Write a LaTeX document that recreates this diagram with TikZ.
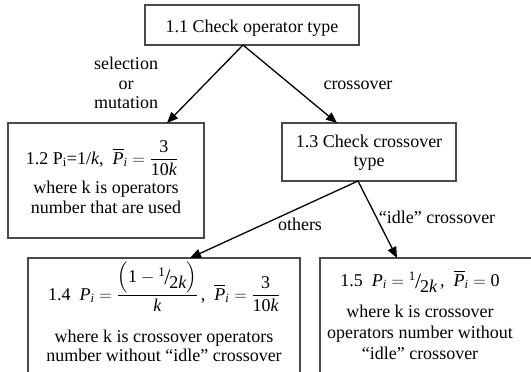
\documentclass[tikz,border=0pt]{standalone}
\usepackage{amsmath}
\usepackage{fontspec}
\setmainfont{Liberation Serif}
\usetikzlibrary{arrows.meta}
\definecolor{boxgray}{HTML}{4A4A4A}
\newcommand\tx[1]{\text{#1}}
\newcommand\ti[1]{\text{\itshape #1}}
\newcommand\pbar{\overline{\ti{P}}_{\ti{i}}}
\newcommand\myslfrac[2]{\mbox{\raisebox{.32em}{\fontsize{13}{13}\selectfont #1}\kern-.02em\raisebox{-.12em}{\fontsize{22}{22}\selectfont /}\kern-.06em\raisebox{-.38em}{#2}}}
\begin{document}
\begin{tikzpicture}[x=1pt,y=-1pt,
  box/.style={draw=boxgray,line width=1.1pt,inner sep=0pt},
  lbl/.style={inner sep=0pt,font=\fontsize{18}{20}\selectfont,anchor=base},
  arr/.style={line width=1.3pt,-{Triangle[length=11pt,width=9pt]}}]
\useasboundingbox (0,0) rectangle (531,372);
\clip (0,0) rectangle (531,372);
% boxes
\node[box,minimum width=214pt,minimum height=40pt] (n11) at (252,25) {};
\node[box,minimum width=196pt,minimum height=115pt] (n12) at (106,180.5) {};
\node[box,minimum width=174pt,minimum height=58pt] (n13) at (369,152) {};
\node[box,minimum width=272pt,minimum height=140pt] (n14) at (164,328) {};
\node[box,minimum width=260pt,minimum height=140pt] (n15) at (450,328) {};
% arrow end points
\coordinate (s11) at (243,45);
\coordinate (e12) at (167,123);
\coordinate (e13) at (337,123);
\coordinate (s13) at (358,181);
\coordinate (e14) at (190,258);
\coordinate (e15) at (397,258);
\draw[arr] (s11) -- (e12);
\draw[arr] (s11) -- (e13);
\draw[arr] (s13) -- (e14);
\draw[arr] (s13) -- (e15);
% texts
\node[lbl] (t11) at (252,32) {1.1 Check operator type};
\node[lbl] (ls1) at (126,69) {selection};
\node[lbl] (ls2) at (126,89) {or};
\node[lbl] (ls3) at (126,108) {mutation};
\node[lbl] (lc) at (358,89) {crossover};
\node[lbl] (t12a) at (102,164) {1.2 P\textsubscript{i}=1/\textit{k}, \ $\pbar = \dfrac{\tx{3}}{\tx{10}\ti{k}}$};
\node[lbl] (t12b) at (106,193) {where k is operators};
\node[lbl] (t12c) at (106,213) {number that are used};
\node[lbl] (t13a) at (369,147) {1.3 Check crossover};
\node[lbl] (t13b) at (369,166) {type};
\node[lbl] (lo) at (300,230) {others};
\node[lbl] (li) at (437,223) {“idle” crossover};
\node[lbl] (t14a) at (164,300) {1.4 \ $\ti{P}_{\ti{i}} = \dfrac{\Bigl(\tx{1} - \myslfrac{\tx{1}}{\tx{2}\ti{k}}\Bigr)}{\ti{k}}$\,, \ $\pbar = \dfrac{\tx{3}}{\tx{10}\ti{k}}$};
\node[lbl] (t14b) at (164,342) {where k is crossover operators};
\node[lbl] (t14c) at (164,361) {number without “idle” crossover};
\node[lbl] (t15a) at (420,286) {1.5 \ $\ti{P}_{\ti{i}} = \myslfrac{\tx{1}}{\tx{2}\ti{k}}$\,, \ $\pbar = \tx{0}$};
\node[lbl] (t15b) at (420,317) {where k is crossover};
\node[lbl] (t15c) at (420,338) {operators number without};
\node[lbl] (t15d) at (420,359) {“idle” crossover};
\end{tikzpicture}
\end{document}
